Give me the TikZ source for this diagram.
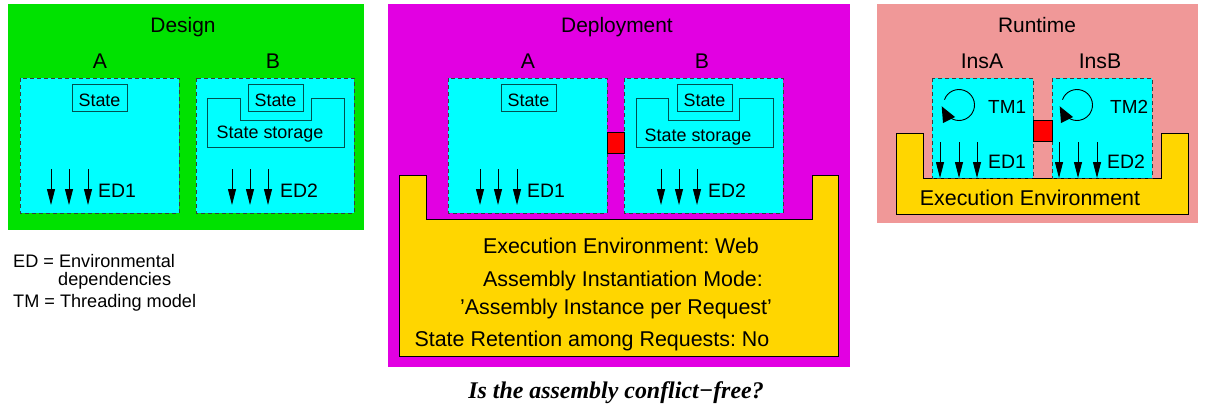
\documentclass[tikz,border=0pt]{standalone}
\usepackage{fontspec}
\setmainfont{Liberation Sans}
\newfontfamily\capfont[Ligatures=NoCommon]{Liberation Serif}
\usetikzlibrary{arrows.meta}
\frenchspacing
\definecolor{pgreen}{RGB}{0,226,0}
\definecolor{pmag}{RGB}{226,0,226}
\definecolor{ppink}{RGB}{240,152,152}
\definecolor{pgold}{RGB}{255,214,0}
\definecolor{pcyan}{RGB}{0,255,255}
\definecolor{pred}{RGB}{255,0,0}
\definecolor{pteal}{RGB}{0,80,80}
\definecolor{pdash}{RGB}{60,60,60}
\tikzset{
  compbox/.style={fill=pcyan,draw=pdash,line width=0.9bp,dash pattern=on 4bp off 3bp},
  statebox/.style={draw=pteal,line width=0.9bp},
  envshape/.style={fill=pgold,draw=black,line width=0.9bp},
  conflict/.style={fill=pred,draw=black,line width=0.6bp},
  edarrow/.style={line width=0.9bp,-{Triangle[length=16bp,width=8bp]}},
  tmarc/.style={line width=0.9bp},
  title/.style={anchor=base,inner sep=0pt,font=\fontsize{21}{25}\selectfont},
  lbl/.style={anchor=base,inner sep=0pt,font=\fontsize{21.3}{25}\selectfont},
  stxt/.style={anchor=base,inner sep=0pt,font=\fontsize{18}{22}\selectfont},
  edtxt/.style={anchor=base west,inner sep=0pt,font=\fontsize{19.5}{23}\selectfont},
  envtxt/.style={anchor=base,inner sep=0pt,font=\fontsize{21.5}{26}\selectfont},
  legtxt/.style={anchor=base west,inner sep=0pt,font=\fontsize{18.2}{22}\selectfont},
}
\begin{document}
\begin{tikzpicture}[x=1bp,y=-1bp]
\useasboundingbox (0,0) rectangle (1205,407);
% ---------- Design ----------
\fill[pgreen] (8,4) rectangle (364,230);
\node[title] (design) at (183,32) {Design};
\node[lbl] (dA) at (100,68) {A};
\node[lbl] (dB) at (273,68) {B};
\draw[compbox] (20,78) rectangle (179,213);
\draw[compbox] (196,78) rectangle (354,213);
\draw[statebox] (72,84) rectangle (127,111);
\node[stxt] (dAstate) at (99.5,106) {State};
\draw[statebox] (207,98) -- (240,98) -- (240,120) -- (311,120) -- (311,98) -- (344,98) -- (344,147) -- (207,147) -- cycle;
\draw[statebox] (248,84) rectangle (303,111);
\node[stxt] (dBstate) at (275.5,106) {State};
\node[stxt] (dBstor) at (270,138) {State storage};
\foreach \x in {51,69,88} \draw[edarrow] (\x,169) -- (\x,205);
\foreach \x in {232,250,268} \draw[edarrow] (\x,169) -- (\x,205);
\node[edtxt] (ded1) at (98,197) {ED1};
\node[edtxt] (ded2) at (280,197) {ED2};
% ---------- Legend ----------
\node[legtxt] (leg1) at (13,267) {ED = Environmental};
\node[legtxt] (leg2) at (58,285) {dependencies};
\node[legtxt] (leg3) at (13,307) {TM = Threading model};
% ---------- Deployment ----------
\fill[pmag] (388,4) rectangle (850,367);
\node[title] (deploy) at (617,32) {Deployment};
\node[lbl] (pA) at (528,68) {A};
\node[lbl] (pB) at (702,68) {B};
\draw[envshape] (399,175) -- (426,175) -- (426,219) -- (812,219) -- (812,175) -- (838,175) -- (838,356) -- (399,356) -- cycle;
\draw[compbox] (448,78) rectangle (607,213);
\draw[compbox] (624,78) rectangle (783,213);
\draw[conflict] (607,132) rectangle (624,153);
\draw[statebox] (501,84) rectangle (556,111);
\node[stxt] (pAstate) at (528.5,106) {State};
\draw[statebox] (636,98) -- (668,98) -- (668,120) -- (739,120) -- (739,98) -- (773,98) -- (773,147) -- (636,147) -- cycle;
\draw[statebox] (677,84) rectangle (732,111);
\node[stxt] (pBstate) at (704.5,106) {State};
\node[stxt] (pBstor) at (698,141) {State storage};
\foreach \x in {480,498,517} \draw[edarrow] (\x,169) -- (\x,205);
\foreach \x in {661,679,697} \draw[edarrow] (\x,169) -- (\x,205);
\node[edtxt] (ped1) at (527,197) {ED1};
\node[edtxt] (ped2) at (708,197) {ED2};
\node[envtxt] (env1) at (621,253) {Execution Environment: Web};
\node[envtxt] (env2) at (623,286) {Assembly Instantiation Mode:};
\node[envtxt] (env3) at (616,314) {'Assembly Instance per Request'};
\node[envtxt] (env4) at (592,346) {State Retention among Requests: No};
\node[anchor=base,inner sep=0pt,font=\capfont\bfseries\itshape\fontsize{24}{28}\selectfont] (question) at (616,398) {Is the assembly conflict\symbol{"2212}free?};
% ---------- Runtime ----------
\fill[ppink] (877,4) rectangle (1198,223);
\node[title] (runtime) at (1037,32) {Runtime};
\node[lbl] (rA) at (982,68) {InsA};
\node[lbl] (rB) at (1100,68) {InsB};
\draw[envshape] (896,133) -- (923,133) -- (923,178) -- (1161,178) -- (1161,133) -- (1188,133) -- (1188,214) -- (896,214) -- cycle;
\draw[compbox] (932,78) rectangle (1033,178);
\draw[compbox] (1052,78) rectangle (1152,178);
\draw[conflict] (1033,120) rectangle (1052,141);
\foreach \cx/\nm in {959/tmA,1077/tmB} {
  \coordinate (\nm) at (\cx,105);
  \draw[tmarc] ([shift={(200:15.5)}]\nm) arc[start angle=200,end angle=485,radius=15.5];
  \fill ([shift={(-17.3,1.3)}]\nm) -- ([shift={(-16,18)}]\nm) -- ([shift={(-4,12)}]\nm) -- cycle;
}
\node[edtxt,font=\fontsize{19}{23}\selectfont] (tm1) at (988,113) {TM1};
\node[edtxt,font=\fontsize{19}{23}\selectfont] (tm2) at (1110,113) {TM2};
\foreach \x in {940,959,977} \draw[edarrow] (\x,142) -- (\x,178);
\foreach \x in {1059,1078,1097} \draw[edarrow] (\x,142) -- (\x,178);
\node[edtxt] (red1) at (988,168) {ED1};
\node[edtxt] (red2) at (1107,168) {ED2};
\node[envtxt] (renv) at (1030,205) {Execution Environment};
\end{tikzpicture}
\end{document}
